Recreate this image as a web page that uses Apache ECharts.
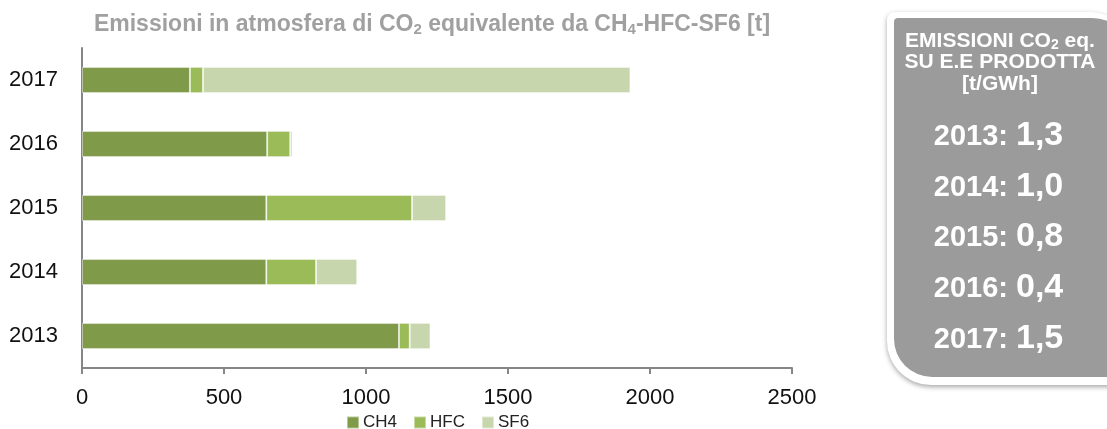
<!DOCTYPE html>
<html>
<head>
<meta charset="utf-8">
<script src="https://cdn.jsdelivr.net/npm/echarts@6/dist/echarts.min.js"></script>
<style>
  html, body { margin: 0; padding: 0; background: #fff; }
  #chart { width: 1107px; height: 429px; }
</style>
</head>
<body>
<div id="chart"></div>
<script>
// dati
const years = ['2013', '2014', '2015', '2016', '2017'];
const ch4 = [1116, 649, 649, 652, 380];
const hfc = [38, 175, 513, 81, 46];
const sf6 = [73, 145, 120, 8, 1505];
const xTicks = [0, 500, 1000, 1500, 2000, 2500];

// riquadro a destra
const panelYears = ['2013', '2014', '2015', '2016', '2017'];
const panelValues = ['1,3', '1,0', '0,8', '0,4', '1,5'];

const FONT = '"Liberation Sans", Arial, sans-serif';
const chart = echarts.init(document.getElementById('chart'));

const seriesDefs = [
  { name: 'CH4', data: ch4, color: '#7f9a48' },
  { name: 'HFC', data: hfc, color: '#9bbb59' },
  { name: 'SF6', data: sf6, color: '#c7d6ac' }
];

// testi del riquadro
const panelTexts = [
  { text: 'EMISSIONI CO{s|2} eq.', y: 41 },
  { text: 'SU E.E PRODOTTA', y: 62 },
  { text: '[t/GWh]', y: 84 }
].map(t => ({
  type: 'text',
  z: 10,
  style: {
    x: 1000, y: t.y,
    text: t.text,
    align: 'center', verticalAlign: 'middle',
    fill: '#fff',
    font: 'bold 21px ' + FONT,
    rich: { s: { fontSize: 14, fontWeight: 'bold', fontFamily: FONT, fill: '#fff', verticalAlign: 'bottom', padding: [8, 0, 0, 0] } }
  }
}));

const yearTexts = [];
panelYears.forEach((y, i) => {
  yearTexts.push({
    type: 'text', z: 10,
    style: {
      x: 1008, y: 137 + i * 50.7,
      text: y + ':',
      align: 'right', verticalAlign: 'middle',
      fill: '#fff', font: 'bold 29px ' + FONT
    }
  });
  yearTexts.push({
    type: 'text', z: 10,
    style: {
      x: 1016, y: 135.5 + i * 50.7,
      text: panelValues[i],
      align: 'left', verticalAlign: 'middle',
      fill: '#fff', font: 'bold 34px ' + FONT
    }
  });
});

chart.setOption({
  animation: false,
  title: {
    text: 'Emissioni in atmosfera di CO{s|2} equivalente da CH{s|4}-HFC-SF6 [t]',
    left: 427,
    textAlign: 'center',
    top: 8,
    textStyle: {
      fontFamily: FONT, fontSize: 23, fontWeight: 'bold', color: '#a0a0a0',
      rich: { s: { fontFamily: FONT, fontSize: 15, fontWeight: 'bold', color: '#a0a0a0', verticalAlign: 'bottom', padding: [9, 0, 0, 0] } }
    }
  },
  legend: {
    data: seriesDefs.map(s => s.name),
    left: 341,
    top: 409,
    itemWidth: 12,
    itemHeight: 12,
    itemGap: 16,
    icon: 'rect',
    textStyle: { fontFamily: FONT, fontSize: 17, color: '#222', padding: [0, 0, 0, -1] }
  },
  grid: { left: 82, right: 315, top: 48, bottom: 61, containLabel: false },
  xAxis: {
    type: 'value',
    min: xTicks[0],
    max: xTicks[xTicks.length - 1],
    interval: xTicks[1] - xTicks[0],
    axisLine: { show: true, lineStyle: { color: '#868686', width: 2 } },
    axisTick: { show: true, length: 6, lineStyle: { color: '#868686', width: 2 } },
    splitLine: { show: false },
    axisLabel: { fontFamily: FONT, fontSize: 22, color: '#111', margin: 19, formatter: v => String(v) }
  },
  yAxis: {
    type: 'category',
    data: years,
    axisLine: { show: true, lineStyle: { color: '#868686', width: 2 } },
    axisTick: { show: false },
    axisLabel: { fontFamily: FONT, fontSize: 22, color: '#111', margin: 24 }
  },
  series: seriesDefs.map(s => ({
    name: s.name,
    type: 'bar',
    stack: 'tot',
    barWidth: '41%',
    data: s.data,
    itemStyle: { color: s.color, borderColor: 'rgba(255,255,255,0.45)', borderWidth: 1 }
  })),
  graphic: [
    {
      type: 'rect',
      z: 5,
      shape: { x: 887, y: 12, width: 250, height: 373, r: [8, 48, 0, 44] },
      style: { fill: '#fff', shadowBlur: 5, shadowColor: 'rgba(0,0,0,0.35)', shadowOffsetY: 2 }
    },
    {
      type: 'rect',
      z: 6,
      shape: { x: 894, y: 18, width: 240, height: 359, r: [4, 42, 0, 38] },
      style: { fill: '#9b9b9b' }
    }
  ].concat(panelTexts, yearTexts)
});
</script>
</body>
</html>
